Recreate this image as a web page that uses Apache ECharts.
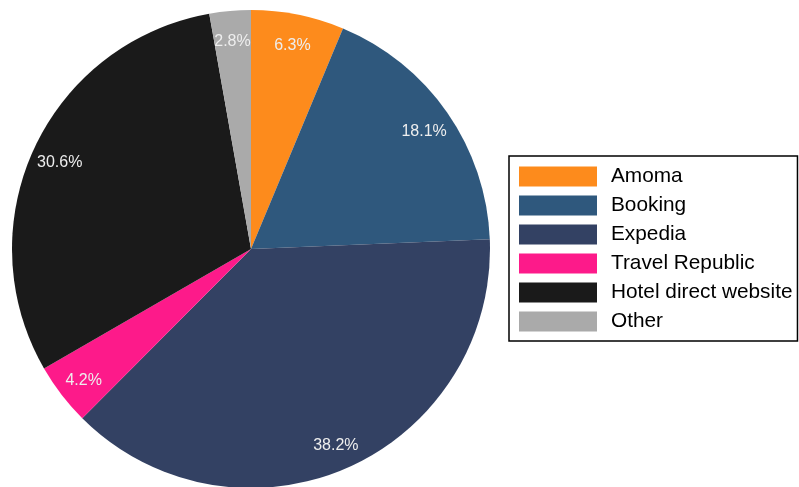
<!DOCTYPE html>
<html>
<head>
<meta charset="utf-8">
<script src="https://cdn.jsdelivr.net/npm/echarts@6/dist/echarts.min.js"></script>
<style>
  html, body { margin: 0; padding: 0; background: #ffffff; }
  #chart { width: 799px; height: 487px; }
</style>
</head>
<body>
<div id="chart"></div>
<script>
// Booking share by channel (percent)
const channels = ['Amoma', 'Booking', 'Expedia', 'Travel Republic', 'Hotel direct website', 'Other'];
const shares = [6.3, 18.1, 38.2, 4.2, 30.6, 2.8];
const colors = ['#fd8b1c', '#2f587d', '#334163', '#fd1a8a', '#1a1a1a', '#aaaaaa'];

const chart = echarts.init(document.getElementById('chart'), null, { renderer: 'canvas' });

const CENTER = [251, 249];
const R = 239;
const pieData = channels.map((name, i) => ({ name: name, value: shares[i] }));

chart.setOption({
  animation: false,
  color: colors,
  legend: {
    orient: 'vertical',
    left: 509,
    top: 156,
    padding: [10, 5, 9, 10],
    borderColor: '#000000',
    borderWidth: 1.5,
    borderRadius: 0,
    itemWidth: 78,
    itemHeight: 20,
    itemGap: 8,
    icon: 'rect',
    selectedMode: false,
    textStyle: {
      fontFamily: 'Liberation Sans, Arial, sans-serif',
      fontSize: 20.8,
      lineHeight: 20,
      color: '#000000',
      padding: [0, 0, 0, 9]
    },
    data: channels
  },
  series: [{
    // filled slices
    type: 'pie',
    center: CENTER,
    radius: [0, R],
    startAngle: 90,
    clockwise: true,
    label: { show: false },
    labelLine: { show: false },
    itemStyle: { borderWidth: 0 },
    emphasis: { disabled: true },
    data: pieData
  }, {
    // transparent outer ring carrying the percentage labels
    type: 'pie',
    center: CENTER,
    radius: [R - 62, R],
    startAngle: 90,
    clockwise: true,
    silent: true,
    avoidLabelOverlap: false,
    itemStyle: { color: 'rgba(0,0,0,0)', borderWidth: 0 },
    label: {
      show: true,
      position: 'inside',
      formatter: '{c}%',
      color: '#eeeeee',
      fontFamily: 'Liberation Sans, Arial, sans-serif',
      fontSize: 16,
      offset: [0, 3]
    },
    labelLine: { show: false },
    emphasis: { disabled: true },
    data: pieData
  }]
});
</script>
</body>
</html>
